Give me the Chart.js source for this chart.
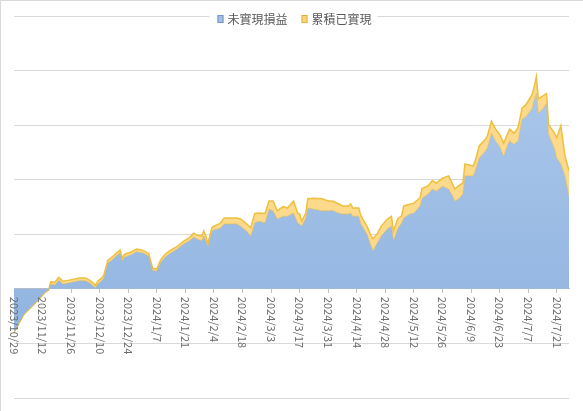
<!DOCTYPE html>
<html>
<head>
<meta charset="utf-8">
<script src="https://cdn.jsdelivr.net/npm/chart.js@4.4.1/dist/chart.umd.min.js"></script>
<style>
	html, body { margin: 0; padding: 0; background: #fff; }
	canvas { display: block; }
</style>
</head>
<body>
<canvas id="pnlchart" width="583" height="411"></canvas>
<script>
// days counted from 2023/10/29
const dayIndex = [
	0, 2, 5, 8, 12, 15, 17, 18, 20, 22,
	24, 27, 32, 35, 37, 39, 40, 41, 43, 44,
	46, 48, 50, 52, 53, 54, 57, 60, 63, 66,
	68, 70, 72, 74, 76, 80, 83, 86, 88, 90,
	92, 93, 94, 95, 97, 98, 101, 103, 109, 111,
	114, 116, 118, 120, 123, 125, 127, 129, 132, 134,
	137, 139, 140, 141, 143, 144, 147, 151, 154, 156,
	159, 161, 164, 165, 166, 169, 170, 173, 175, 176,
	178, 180, 183, 185, 186, 188, 190, 191, 194, 196,
	199, 200, 203, 205, 207, 210, 213, 215, 216, 218,
	220, 221, 225, 226, 228, 231, 232, 234, 236, 238,
	240, 242, 243, 245, 247, 249, 251, 254, 255, 256,
	257, 259, 261, 262, 265, 266, 268, 270, 272
];
const unrealized = [
	-80, -66, -46, -35, -20, -7, -2, 9, 7, 16,
	9, 11, 15, 15, 11, 5, 2, 9, 15, 20,
	47, 53, 60, 66, 51, 58, 62, 68, 66, 60,
	33, 33, 49, 58, 64, 73, 82, 88, 95, 91,
	88, 97, 88, 77, 106, 108, 111, 119, 119, 115,
	106, 97, 121, 124, 121, 146, 143, 128, 133, 133,
	139, 121, 119, 115, 130, 148, 146, 143, 143, 144,
	139, 137, 137, 139, 133, 133, 119, 100, 79, 70,
	84, 97, 110, 115, 88, 110, 121, 130, 137, 139,
	152, 166, 174, 183, 179, 188, 183, 170, 161, 165,
	174, 207, 207, 216, 240, 252, 258, 285, 271, 261,
	243, 265, 271, 265, 271, 311, 316, 331, 347, 358,
	322, 329, 340, 283, 256, 240, 229, 207, 170
];
const realized = [
	0, 0, 0, 0, 0, 0, 0, 4, 5, 5,
	5, 5, 5, 5, 5, 5, 4, 5, 5, 5,
	5, 5, 5, 5, 5, 5, 5, 5, 5, 5,
	4, 4, 5, 5, 5, 5, 5, 6, 7, 7,
	9, 9, 9, 6, 6, 7, 9, 11, 11, 13,
	13, 15, 17, 15, 17, 15, 18, 15, 18, 15,
	22, 18, 18, 9, 9, 17, 20, 22, 18, 17,
	17, 15, 15, 17, 15, 15, 15, 15, 18, 22,
	17, 18, 18, 18, 18, 18, 13, 22, 18, 18,
	15, 18, 15, 15, 15, 15, 24, 22, 22, 24,
	20, 22, 18, 18, 22, 22, 22, 22, 22, 22,
	24, 20, 22, 20, 24, 20, 22, 26, 24, 31,
	26, 24, 18, 18, 29, 37, 70, 37, 46
];
const tickLabels = [
	'2023/10/29', '2023/11/12', '2023/11/26', '2023/12/10', '2023/12/24',
	'2024/1/7', '2024/1/21', '2024/2/4', '2024/2/18', '2024/3/3',
	'2024/3/17', '2024/3/31', '2024/4/14', '2024/4/28', '2024/5/12',
	'2024/5/26', '2024/6/9', '2024/6/23', '2024/7/7', '2024/7/21'
];
const seriesNames = ['未實現損益', '累積已實現'];

const fontFamily = '"Noto Sans CJK TC", "Noto Sans", sans-serif';
const legendFill = ['#a3c1e7', '#fbd57c'];
const legendStroke = ['#6f95c8', '#dfb13a'];

function blueFill(context) {
	const area = context.chart.chartArea;
	if (!area) {
		return '#9dbde5';
	}
	const g = context.chart.ctx.createLinearGradient(0, area.top, 0, area.bottom);
	g.addColorStop(0, '#b1ccee');
	g.addColorStop(1, '#8aafdd');
	return g;
}

// chart border, rotated date labels and the legend box over the top gridline
const decorations = {
	id: 'decorations',
	beforeDraw: function(chart) {
		const ctx = chart.ctx;
		ctx.save();
		ctx.fillStyle = '#fff';
		ctx.fillRect(0, 0, chart.width, chart.height);
		ctx.strokeStyle = '#d9d9d9';
		ctx.lineWidth = 1;
		ctx.beginPath();
		ctx.moveTo(0.5, chart.height);
		ctx.lineTo(0.5, 0.5);
		ctx.lineTo(chart.width, 0.5);
		ctx.stroke();
		ctx.restore();
	},
	afterDraw: function(chart) {
		const ctx = chart.ctx;
		const xs = chart.scales.x;
		const zero = chart.scales.y.getPixelForValue(0);
		ctx.save();
		ctx.font = '11px ' + fontFamily;
		ctx.fillStyle = '#6b6b6b';
		ctx.textAlign = 'left';
		ctx.textBaseline = 'middle';
		xs.ticks.forEach(function(t, i) {
			ctx.save();
			ctx.translate(xs.getPixelForTick(i), zero + 8);
			ctx.rotate(Math.PI / 2);
			ctx.fillText(tickLabels[Math.round(t.value / 14)], 0, 0);
			ctx.restore();
		});

		ctx.font = '12px ' + fontFamily;
		const widths = chart.data.datasets.map(function(ds) { return ctx.measureText(ds.label).width; });
		let total = 0;
		widths.forEach(function(w) { total += 10 + w; });
		total += 14 * (widths.length - 1);
		let x = chart.width / 2 - total / 2 + 3;
		const y = 19;
		ctx.fillStyle = '#fff';
		ctx.fillRect(x - 8, 9, total + 14, 19);
		chart.data.datasets.forEach(function(ds, i) {
			ctx.fillStyle = legendFill[i];
			ctx.fillRect(x, y - 4, 6, 8);
			ctx.strokeStyle = legendStroke[i];
			ctx.lineWidth = 1;
			ctx.strokeRect(x + 0.5, y - 3.5, 5, 7);
			ctx.fillStyle = '#595959';
			ctx.fillText(ds.label, x + 10, y);
			x += 10 + widths[i] + 14;
		});
		ctx.restore();
	}
};

new Chart(
	document.getElementById('pnlchart'),
	{
		type: 'line',
		data: {
			datasets: [
				{
					label: seriesNames[0],
					data: dayIndex.map(function(d, i) { return {x: d, y: unrealized[i]}; }),
					backgroundColor: blueFill,
					borderColor: 'rgba(228, 184, 62, 0.55)',
					borderWidth: 1,
					fill: 'origin'
				},
				{
					label: seriesNames[1],
					data: dayIndex.map(function(d, i) { return {x: d, y: realized[i]}; }),
					backgroundColor: '#fcd98b',
					borderColor: '#edc03f',
					borderWidth: 1.5,
					fill: '-1'
				}
			]
		},
		options: {
			responsive: false,
			animation: false,
			layout: {
				padding: {left: 14, right: 14, top: 16, bottom: 13}
			},
			elements: {
				point: {radius: 0},
				line: {tension: 0}
			},
			plugins: {
				legend: {display: false},
				tooltip: {enabled: false}
			},
			scales: {
				x: {
					type: 'linear',
					min: 0,
					max: 272,
					position: {y: 0},
					afterBuildTicks: function(s) {
						s.ticks = tickLabels.map(function(l, i) { return {value: i * 14}; });
					},
					afterFit: function(s) { s.height = 0; },
					ticks: {display: false},
					grid: {drawOnChartArea: false, drawTicks: true, tickLength: 4, color: '#bfbfbf'},
					border: {color: '#bfbfbf'}
				},
				y: {
					stacked: true,
					min: -200,
					max: 500,
					afterFit: function(s) { s.width = 0; },
					ticks: {display: false, stepSize: 100},
					grid: {color: '#d9d9d9', drawTicks: false},
					border: {display: false}
				}
			}
		},
		plugins: [decorations]
	}
);
</script>
</body>
</html>
